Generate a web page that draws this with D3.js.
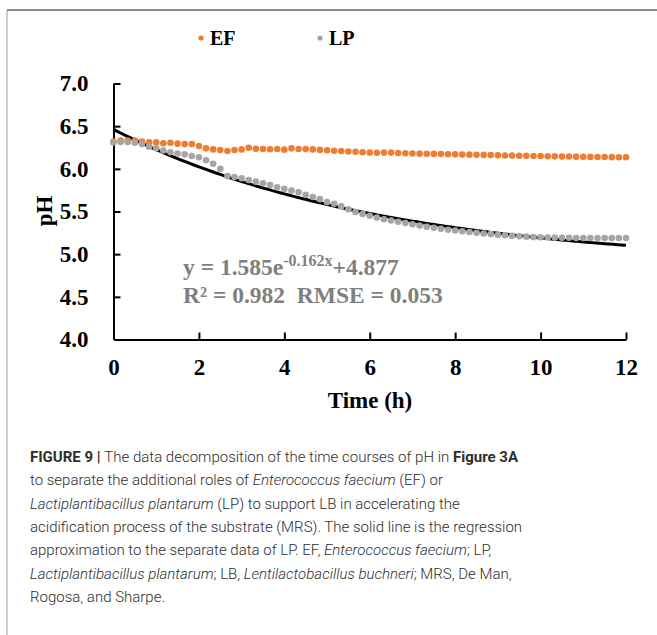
<!DOCTYPE html>
<html>
<head>
<meta charset="utf-8">
<script src="https://cdn.jsdelivr.net/npm/d3@7"></script>
<style>
  html, body { margin: 0; padding: 0; background: #fff; }
  svg { display: block; }
</style>
</head>
<body>
<svg id="fig" width="657" height="635"></svg>
<script>
// Sampling times (minutes) for the pH records, every 10 min over 12 h
const sampleMinutes = d3.range(0, 721, 10);

// pH attributed to Enterococcus faecium (EF)
const efPH = [6.32, 6.33, 6.33, 6.33, 6.32, 6.31, 6.31, 6.30, 6.305, 6.295, 6.29, 6.29,
  6.267, 6.24, 6.228, 6.22, 6.209, 6.22, 6.228, 6.247, 6.235, 6.232, 6.23, 6.233,
  6.225, 6.24, 6.232, 6.232, 6.228, 6.222, 6.218, 6.212, 6.208, 6.203, 6.2, 6.195,
  6.19, 6.188, 6.19, 6.19, 6.185, 6.182, 6.18, 6.178, 6.176, 6.175, 6.173, 6.171,
  6.17, 6.168, 6.166, 6.165, 6.163, 6.161, 6.158, 6.156, 6.155, 6.153, 6.152, 6.151,
  6.15, 6.148, 6.146, 6.145, 6.144, 6.143, 6.142, 6.14, 6.139, 6.138, 6.137, 6.136, 6.135];

// pH attributed to Lactiplantibacillus plantarum (LP)
const lpPH = [6.31, 6.315, 6.315, 6.305, 6.29, 6.26, 6.24, 6.215, 6.195, 6.18, 6.17, 6.15,
  6.135, 6.10, 6.06, 6.00, 5.915, 5.905, 5.89, 5.87, 5.85, 5.83, 5.81, 5.785,
  5.765, 5.745, 5.725, 5.695, 5.67, 5.645, 5.61, 5.59, 5.56, 5.525, 5.495, 5.47,
  5.45, 5.43, 5.41, 5.395, 5.38, 5.365, 5.35, 5.335, 5.322, 5.31, 5.298, 5.287,
  5.277, 5.268, 5.259, 5.25, 5.242, 5.235, 5.228, 5.222, 5.216, 5.21, 5.205, 5.20,
  5.197, 5.195, 5.194, 5.193, 5.192, 5.19, 5.19, 5.19, 5.19, 5.19, 5.19, 5.19, 5.19];

// Regression on LP: y = a * exp(k x) + c
const fitA = 1.585, fitK = -0.162, fitC = 4.877;
const fitR2 = "0.982", fitRMSE = "0.053";

const seriesNames = ["EF", "LP"];
const seriesColors = ["#ED7D31", "#A5A5A5"];
const yTickValues = [4.0, 4.5, 5.0, 5.5, 6.0, 6.5, 7.0];
const xTickValues = [0, 2, 4, 6, 8, 10, 12];
const xTitle = "Time (h)";
const yTitle = "pH";

const svg = d3.select("#fig");
const serif = "'Liberation Serif', 'Times New Roman', serif";

svg.append("rect").attr("width", 657).attr("height", 635).attr("fill", "#fff");

// Figure frame (top and left rules)
svg.append("line").attr("x1", 7).attr("x2", 657).attr("y1", 10).attr("y2", 10)
  .attr("stroke", "#8a8a8a").attr("stroke-width", 2);
svg.append("line").attr("x1", 7).attr("x2", 7).attr("y1", 10).attr("y2", 635)
  .attr("stroke", "#9a9a9a").attr("stroke-width", 1);

const x = d3.scaleLinear().domain([0, 12]).range([113.5, 626]);
const y = d3.scaleLinear().domain([4, 7]).range([339.5, 83.5]);

// Axes with inward ticks
const yAxis = svg.append("g").attr("transform", `translate(${x(0)},0)`)
  .call(d3.axisLeft(y).tickValues(yTickValues).tickFormat(d3.format(".1f"))
    .tickSizeInner(-7).tickSizeOuter(0).tickPadding(25));
const xAxis = svg.append("g").attr("transform", `translate(0,${y(4)})`)
  .call(d3.axisBottom(x).tickValues(xTickValues).tickFormat(d3.format("d"))
    .tickSizeInner(-7).tickSizeOuter(0).tickPadding(19));

[yAxis, xAxis].forEach(g => {
  g.select(".domain").attr("stroke", "#000").attr("stroke-width", 2);
  g.selectAll(".tick line").attr("stroke", "#000").attr("stroke-width", 2);
  g.selectAll(".tick text").attr("font-family", serif).attr("font-weight", "bold")
    .attr("font-size", 23).attr("fill", "#000");
});
yAxis.selectAll(".tick").filter(d => d === 4).select("line").remove();
xAxis.selectAll(".tick").filter(d => d === 0).select("line").remove();

// Axis titles
svg.append("text").attr("x", 370).attr("y", 408).attr("text-anchor", "middle")
  .attr("font-family", serif).attr("font-weight", "bold").attr("font-size", 23)
  .text(xTitle);
svg.append("text").attr("transform", "translate(52,211) rotate(-90)")
  .attr("text-anchor", "middle")
  .attr("font-family", serif).attr("font-weight", "bold").attr("font-size", 23)
  .text(yTitle);

// Regression curve
const fitPts = d3.range(0, 12.0001, 0.1).map(t => [t, fitA * Math.exp(fitK * t) + fitC]);
svg.append("path").datum(fitPts)
  .attr("fill", "none").attr("stroke", "#000").attr("stroke-width", 3)
  .attr("d", d3.line().x(d => x(d[0])).y(d => y(d[1])).curve(d3.curveMonotoneX));

// Data points
const seriesData = [efPH, lpPH];
seriesData.forEach((vals, si) => {
  svg.append("g").selectAll("circle")
    .data(vals.map((v, i) => ({ t: sampleMinutes[i] / 60, v })))
    .join("circle")
    .attr("cx", d => x(d.t)).attr("cy", d => y(d.v)).attr("r", 3.3)
    .attr("fill", seriesColors[si]);
});

// Legend
const legendX = [201, 320];
seriesNames.forEach((name, i) => {
  svg.append("circle").attr("cx", legendX[i]).attr("cy", 38).attr("r", 2.6)
    .attr("fill", seriesColors[i]);
  svg.append("text").attr("x", legendX[i] + 9).attr("y", 45)
    .attr("font-family", serif).attr("font-weight", "bold").attr("font-size", 20)
    .attr("fill", "#000").text(name);
});

// Regression equation and goodness of fit
const eq = svg.append("text").attr("x", 183).attr("y", 275)
  .attr("font-family", serif).attr("font-weight", "bold").attr("font-size", 23.5)
  .attr("fill", "#7f7f7f");
eq.append("tspan").text(`y = ${fitA}e`);
eq.append("tspan").attr("dy", -9).attr("font-size", 16).text(`${fitK}x`);
eq.append("tspan").attr("dy", 9).text(`+${fitC}`);
svg.append("text").attr("x", 183).attr("y", 303)
  .attr("font-family", serif).attr("font-weight", "bold").attr("font-size", 23.5)
  .attr("fill", "#7f7f7f").attr("xml:space", "preserve")
  .text(`R\u00B2 = ${fitR2}  RMSE = ${fitRMSE}`);

// Caption
const captionLines = [
  [["FIGURE 9 | ", "b"], ["The data decomposition of the time courses of pH in ", ""], ["Figure 3A", "b"]],
  [["to separate the additional roles of ", ""], ["Enterococcus faecium", "i"], [" (EF) or", ""]],
  [["Lactiplantibacillus plantarum", "i"], [" (LP) to support LB in accelerating the", ""]],
  [["acidification process of the substrate (MRS). The solid line is the regression", ""]],
  [["approximation to the separate data of LP. EF, ", ""], ["Enterococcus faecium", "i"], ["; LP,", ""]],
  [["Lactiplantibacillus plantarum", "i"], ["; LB, ", ""], ["Lentilactobacillus buchneri", "i"], ["; MRS, De Man,", ""]],
  [["Rogosa, and Sharpe.", ""]]
];
captionLines.forEach((segs, li) => {
  const t = svg.append("text").attr("x", 30).attr("y", 462 + li * 23.3)
    .attr("font-family", "Roboto, 'Liberation Sans', sans-serif").attr("font-size", 15)
    .attr("font-weight", 300).attr("fill", "#2e2e2e").attr("xml:space", "preserve");
  segs.forEach(([s, st]) => {
    const ts = t.append("tspan").text(s);
    if (st === "b") ts.attr("font-weight", 700);
    if (st === "i") ts.attr("font-style", "italic");
  });
});
</script>
</body>
</html>
